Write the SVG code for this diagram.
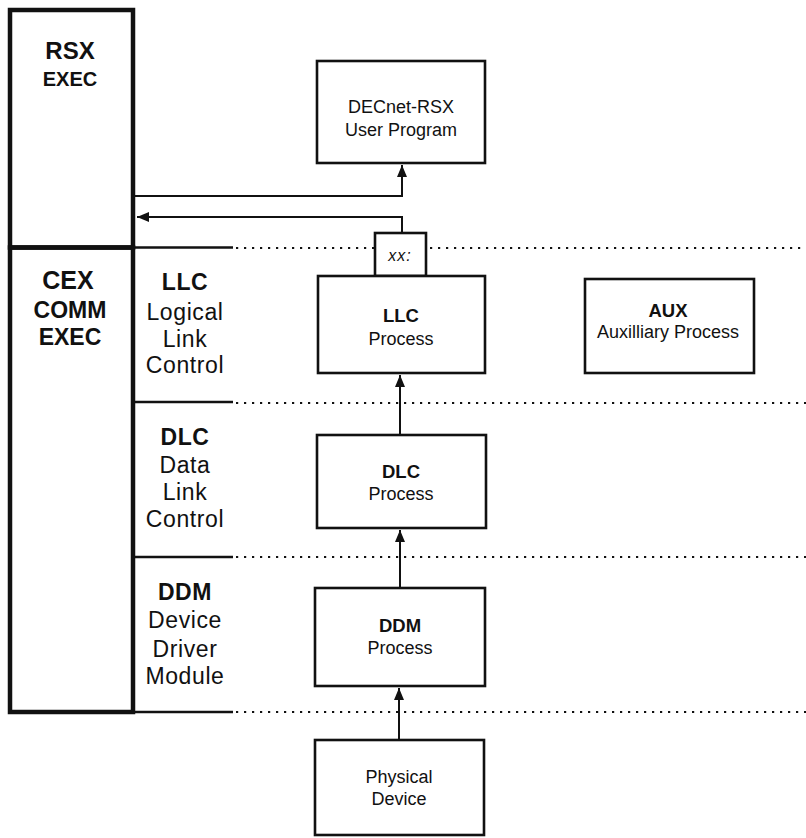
<svg xmlns="http://www.w3.org/2000/svg" width="806" height="838" viewBox="0 0 806 838">
<style>
text{font-family:"Liberation Sans",Arial,sans-serif;fill:#111;text-anchor:middle}
.b{font-weight:bold}
.exec{fill:none;stroke:#111;stroke-width:4.5}
.box{fill:#fff;stroke:#111;stroke-width:2.6}
.solid{stroke:#111;stroke-width:2.6;fill:none}
.dot{stroke:#111;stroke-width:2.2;stroke-dasharray:2.2 5.8;fill:none}
.conn{stroke:#111;stroke-width:2;fill:none}
.lay{font-size:23px;letter-spacing:0.6px}
.pb{font-size:18.5px;font-weight:bold}
.pt{font-size:18px}
</style>
<defs>
<marker id="ah" viewBox="0 0 12 10" refX="12" refY="5" markerWidth="12" markerHeight="10" markerUnits="userSpaceOnUse" orient="auto">
<path d="M0,0 L12,5 L0,10 Z" fill="#111"/>
</marker>
</defs>

<g id="layer-lines">
<line class="solid" x1="133" y1="247.5" x2="233" y2="247.5"/>
<line class="dot" x1="236" y1="248" x2="375" y2="248"/>
<line class="dot" x1="430" y1="248" x2="806" y2="248"/>
<line class="solid" x1="133" y1="402" x2="233" y2="402"/>
<line class="dot" x1="236" y1="403" x2="806" y2="403"/>
<line class="solid" x1="133" y1="557" x2="233" y2="557"/>
<line class="dot" x1="236" y1="557" x2="806" y2="557"/>
<line class="solid" x1="133" y1="712" x2="233" y2="712"/>
<line class="dot" x1="236" y1="712" x2="806" y2="712"/>
</g>

<g id="rsx-exec">
<rect class="exec" x="10" y="10" width="123" height="237.5"/>
<text class="b" x="70" y="59" style="font-size:24px">RSX</text>
<text class="b" x="70" y="86" style="font-size:20px">EXEC</text>
</g>

<g id="cex-comm-exec">
<rect class="exec" x="10" y="247.5" width="123" height="464.5"/>
<text class="b" x="68" y="289" style="font-size:25px">CEX</text>
<text class="b" x="70" y="318" style="font-size:23px">COMM</text>
<text class="b" x="70" y="345" style="font-size:23px">EXEC</text>
</g>

<g id="llc-layer">
<text class="lay b" x="185" y="290">LLC</text>
<text class="lay" x="185" y="320">Logical</text>
<text class="lay" x="185" y="347">Link</text>
<text class="lay" x="185" y="373">Control</text>
</g>

<g id="dlc-layer">
<text class="lay b" x="185" y="445">DLC</text>
<text class="lay" x="185" y="473">Data</text>
<text class="lay" x="185" y="500">Link</text>
<text class="lay" x="185" y="527">Control</text>
</g>

<g id="ddm-layer">
<text class="lay b" x="185" y="600">DDM</text>
<text class="lay" x="185" y="628">Device</text>
<text class="lay" x="185" y="657">Driver</text>
<text class="lay" x="185" y="684">Module</text>
</g>

<g id="connectors">
<polyline class="conn" points="135,196 402,196 402,165" marker-end="url(#ah)"/>
<polyline class="conn" points="402,233 402,217 137,217" marker-end="url(#ah)"/>
<line class="conn" x1="400" y1="435" x2="400" y2="375" marker-end="url(#ah)"/>
<line class="conn" x1="400" y1="588" x2="400" y2="530" marker-end="url(#ah)"/>
<line class="conn" x1="399" y1="740" x2="399" y2="688" marker-end="url(#ah)"/>
</g>

<g id="user-program">
<rect class="box" x="317" y="61" width="168" height="102"/>
<text class="pt" x="401" y="113">DECnet-RSX</text>
<text class="pt" x="401" y="136">User Program</text>
</g>

<g id="xx">
<rect class="box" x="375" y="233" width="51" height="43"/>
<text x="400" y="261" style="font-size:16px;font-style:italic;letter-spacing:1px">xx:</text>
</g>

<g id="llc-process">
<rect class="box" x="318" y="276" width="167" height="97"/>
<text class="pb" x="401" y="322">LLC</text>
<text class="pt" x="401" y="345">Process</text>
</g>

<g id="aux-process">
<rect class="box" x="585" y="279" width="169" height="94"/>
<text class="pb" x="668" y="317">AUX</text>
<text class="pt" x="668" y="338">Auxilliary Process</text>
</g>

<g id="dlc-process">
<rect class="box" x="317" y="435" width="169" height="93"/>
<text class="pb" x="401" y="478">DLC</text>
<text class="pt" x="401" y="500">Process</text>
</g>

<g id="ddm-process">
<rect class="box" x="315" y="588" width="170" height="98"/>
<text class="pb" x="400" y="632">DDM</text>
<text class="pt" x="400" y="654">Process</text>
</g>

<g id="physical-device">
<rect class="box" x="315" y="740" width="169" height="95"/>
<text class="pt" x="399" y="783">Physical</text>
<text class="pt" x="399" y="805">Device</text>
</g>
</svg>
